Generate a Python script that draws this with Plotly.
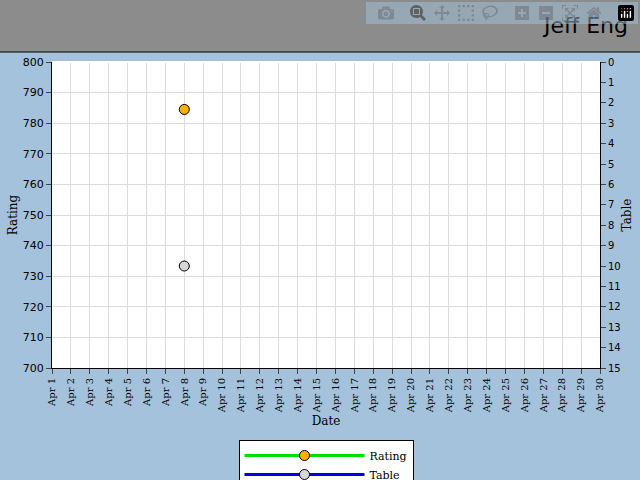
import plotly.graph_objects as go

days = ["Apr %d" % d for d in range(1, 31)]
rating_dates = ["Apr 8"]
rating_vals = [784.5]
table_dates = ["Apr 8"]
table_vals = [10]

H = 306.0
fig = go.Figure()
fig.add_trace(go.Scatter(x=rating_dates, y=rating_vals, name="Rating", mode="lines+markers",
                         line=dict(color="#00e000", width=3),
                         marker=dict(size=10, color="#ffb000", line=dict(color="black", width=1))))
fig.add_trace(go.Scatter(x=table_dates, y=table_vals, name="Table", mode="lines+markers", yaxis="y2",
                         line=dict(color="#0000e0", width=3),
                         marker=dict(size=10, color="#d8d8d8", line=dict(color="black", width=1))))

fig.update_layout(
    width=640, height=480,
    margin=dict(l=52, r=40, t=62, b=112, autoexpand=False),
    paper_bgcolor="#a4c2dc", plot_bgcolor="white",
    font=dict(family="DejaVu Serif", size=10, color="black"),
    xaxis=dict(type="category", categoryarray=days, categoryorder="array", range=[0, 29],
               tickangle=-90, ticks="outside", ticklen=5, showgrid=True, gridcolor="#dcdcdc",
               showline=True, linecolor="black", title=dict(text="Date", standoff=4),
               tickfont=dict(size=10), automargin=False),
    yaxis=dict(range=[700, 800], dtick=10, ticks="outside", ticklen=5, gridcolor="#dcdcdc",
               showline=True, linecolor="black", title=dict(text="Rating", standoff=2),
               tickfont=dict(family="DejaVu Sans", size=11), automargin=False),
    yaxis2=dict(overlaying="y", side="right", range=[15, 0], dtick=1, ticks="outside", ticklen=5,
                showgrid=False, showline=True, linecolor="black", title=dict(text="Table", standoff=2),
                tickfont=dict(family="DejaVu Sans", size=10), automargin=False),
    legend=dict(x=0.5, xanchor="center", y=-(440 - 368) / H, yanchor="top",
                bgcolor="white", bordercolor="black", borderwidth=1,
                font=dict(size=11), itemwidth=120, tracegroupgap=0),
    showlegend=True,
)
fig.add_shape(type="rect", xref="paper", yref="paper", x0=-53 / 548, x1=1 + 41 / 548,
              y0=1 + 10 / H, y1=1 + 63 / H, fillcolor="#8c8c8c", line=dict(color="black", width=1))
fig.add_annotation(text="Jeff Eng", xref="paper", yref="paper", x=1 + 30 / 548, y=1 + 36 / H,
                   xanchor="right", yanchor="middle", showarrow=False,
                   font=dict(family="Comic Sans MS, DejaVu Sans", size=22, color="black"))
fig.write_html("out.html", post_script="document.body.style.margin='0';")
